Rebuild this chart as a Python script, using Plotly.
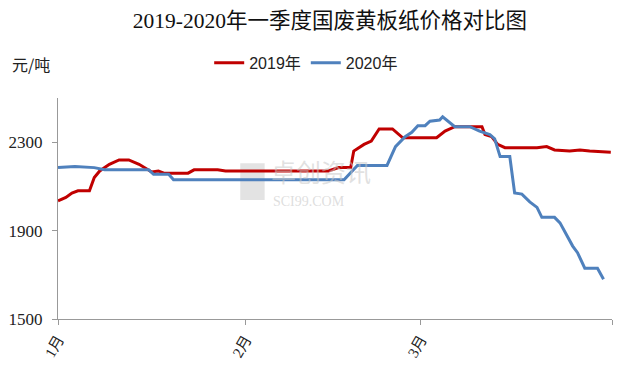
import plotly.graph_objects as go

# Day of quarter (0 = 1 Jan) and price (元/吨)
days_2019 = [0, 1.3, 2.3, 3.3, 5.2, 6.0, 6.9, 8.5, 10.1, 11.7, 13.4, 14.7, 15.5, 16.6, 17.5,
             21.5, 22.5, 26.4, 27.7, 44.7, 46.4, 48.4, 48.9, 50.6, 51.8, 53.1, 55.3, 57.0,
             62.6, 64.0, 65.6, 70.1, 70.6, 71.7, 72.7, 73.9, 79.2, 80.8, 82.1, 84.6, 86.3,
             87.9, 90.0, 91.4]
price_2019 = [2035, 2050, 2070, 2080, 2080, 2140, 2170, 2200, 2220, 2220, 2200, 2180, 2165,
              2170, 2160, 2160, 2175, 2175, 2170, 2170, 2185, 2185, 2260, 2290, 2305, 2360,
              2360, 2320, 2320, 2350, 2370, 2370, 2335, 2325, 2290, 2275, 2275, 2280, 2265,
              2260, 2265, 2260, 2255, 2255]

days_2020 = [0, 2.8, 6.0, 7.7, 15.0, 15.8, 18.3, 19.1, 47.3, 49.5, 54.4, 55.8, 57.4, 58.5,
             59.5, 60.7, 61.5, 63.1, 63.6, 65.6, 68.1, 69.7, 71.4, 72.2, 73.1, 74.7, 75.5,
             76.7, 78.0, 79.2, 80.0, 82.1, 83.0, 84.1, 85.1, 85.9, 87.1, 89.2, 90.2]
price_2020 = [2185, 2190, 2185, 2175, 2175, 2155, 2155, 2130, 2130, 2195, 2195, 2280, 2325,
              2345, 2375, 2375, 2395, 2400, 2415, 2370, 2370, 2350, 2335, 2315, 2235, 2235,
              2070, 2065, 2030, 2005, 1960, 1960, 1935, 1880, 1830, 1800, 1730, 1730, 1680]

month_ticks = [0, 31, 60, 91.6]
month_labels = ["1月", "2月", "3月", ""]

serif = "Liberation Serif, Noto Sans CJK SC, serif"

fig = go.Figure()
fig.add_trace(go.Scatter(x=days_2019, y=price_2019, mode="lines", name="2019年",
                         line=dict(color="#C00000", width=3)))
fig.add_trace(go.Scatter(x=days_2020, y=price_2020, mode="lines", name="2020年",
                         line=dict(color="#4F81BD", width=3)))

fig.update_layout(
    width=632, height=366,
    margin=dict(l=58, r=20, t=98, b=47, autoexpand=False),
    paper_bgcolor="white", plot_bgcolor="white",
    title=dict(text="2019-2020年一季度国废黄板纸价格对比图", x=0.522, xanchor="center",
               xref="container", yref="container", y=0.943, yanchor="middle",
               font=dict(family=serif, size=21.5, color="#111111")),
    showlegend=True,
    legend=dict(orientation="h", xref="container", yref="container",
                x=0.331, xanchor="left", y=0.828, yanchor="middle",
                font=dict(family="Liberation Sans, Noto Sans CJK SC", size=16, color="#222222"),
                itemwidth=30, tracegroupgap=0),
    font=dict(family=serif, size=14, color="#222222"),
)

fig.update_xaxes(range=[0, 91.6], tickmode="array", tickvals=month_ticks, ticktext=month_labels,
                 tickangle=-60, showline=True, linecolor="#999999", linewidth=1,
                 ticks="outside", ticklen=5, tickcolor="#999999", showgrid=False, zeroline=False,
                 automargin=False,
                 tickfont=dict(family=serif, size=15, color="#222222"))
fig.update_yaxes(range=[1500, 2500], tickmode="linear", tick0=1500, dtick=400,
                 showline=True, linecolor="#999999", linewidth=1,
                 ticks="outside", ticklen=5, tickcolor="#999999", showgrid=False, zeroline=False,
                 automargin=False, ticklabelstandoff=6,
                 tickfont=dict(family=serif, size=17, color="#222222"))

fig.add_annotation(text="元/吨", xref="paper", yref="paper", x=-0.087, y=1.156,
                   xanchor="left", yanchor="middle", showarrow=False,
                   font=dict(family="Noto Sans CJK SC", size=16, color="#222222"))

# faint watermark
fig.add_shape(type="rect", xref="paper", yref="paper", x0=0.329, x1=0.373, y0=0.538, y1=0.705,
              fillcolor="rgba(200,200,200,0.5)", line=dict(width=0), layer="below")
fig.add_annotation(text="卓创资讯", xref="paper", yref="paper", x=0.38, y=0.579,
                   xanchor="left", yanchor="bottom", showarrow=False,
                   font=dict(family="Noto Sans CJK SC", size=25, color="rgba(200,200,200,0.55)"))
fig.add_annotation(text="SCI99.COM", xref="paper", yref="paper", x=0.385, y=0.575,
                   xanchor="left", yanchor="top", showarrow=False,
                   font=dict(family=serif, size=14, color="rgba(200,200,200,0.6)"))

fig.write_html("out.html", config={"displayModeBar": False},
               post_script="document.body.style.margin='0px';document.body.style.overflow='hidden';")
